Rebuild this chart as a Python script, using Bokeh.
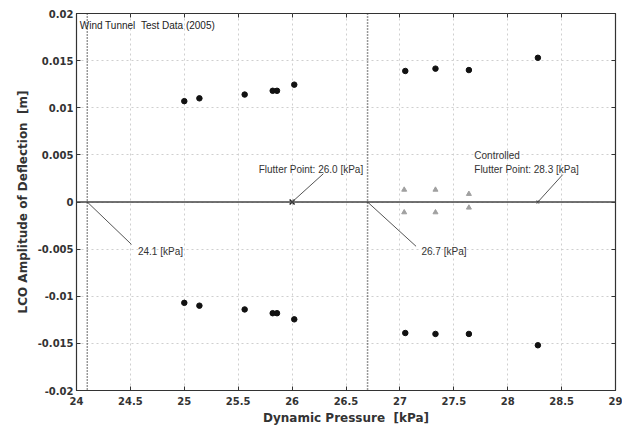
from bokeh.plotting import figure
from bokeh.models import FixedTicker, LinearAxis, Range1d, Span
from bokeh.core.properties import value
from bokeh.embed import file_html
from bokeh.resources import INLINE

# ---- data ----
x_ticks = [24, 24.5, 25, 25.5, 26, 26.5, 27, 27.5, 28, 28.5, 29]
x_tick_labels = ["24", "24.5", "25", "25.5", "26", "26.5", "27", "27.5", "28", "28.5", "29"]
y_ticks = [-0.02, -0.015, -0.01, -0.005, 0, 0.005, 0.01, 0.015, 0.02]
y_tick_labels = ["-0.02", "-0.015", "-0.01", "-0.005", "0", "0.005", "0.01", "0.015", "0.02"]

# uncontrolled LCO amplitude (wind tunnel)
unc_q = [25.0, 25.14, 25.56, 25.82, 25.86, 26.02, 27.05, 27.33, 27.64, 28.28]
unc_upper = [0.0107, 0.0110, 0.0114, 0.0118, 0.0118, 0.01245, 0.0139, 0.01415, 0.0140, 0.0153]
unc_lower = [-0.0107, -0.0110, -0.0114, -0.0118, -0.0118, -0.01245, -0.0139, -0.0140, -0.0140, -0.0152]

# controlled LCO amplitude
ctl_q = [27.04, 27.33, 27.64]
ctl_upper = [0.0013, 0.0013, 0.00085]
ctl_lower = [-0.0011, -0.0011, -0.0006]

# flutter points
flutter_q = [26.0]
ctl_flutter_q = [28.28]
onset_lines = [24.1, 26.7]

# annotations: anchor point, leader end, text position, label
ann_px = [24.1, 26.7, 26.0, 28.28]
ann_py = [0.0, 0.0, 0.0, 0.0]
ann_lx = [24.51, 27.15, 26.29, 28.51]
ann_ly = [-0.0045, -0.0047, 0.003, 0.0029]
ann_tx = [24.57, 27.2, 25.69, 27.69]
ann_ty = [-0.0052, -0.0052, 0.0035, 0.0035]
ann_text = ["24.1 [kPa]", "26.7 [kPa]", "Flutter Point: 26.0 [kPa]", "Flutter Point: 28.3 [kPa]"]
ann2_text = ["Controlled"]
ann2_x = [27.69]
ann2_y = [0.0049]

p = figure(width=622, height=427, output_backend="svg", toolbar_location=None,
           x_range=Range1d(24, 29), y_range=Range1d(-0.02, 0.02),
           min_border_left=76, min_border_right=7, min_border_top=13, min_border_bottom=37)
p.background_fill_color = "white"
p.border_fill_color = "white"
p.outline_line_color = "#333333"
p.outline_line_width = 1.2

p.xaxis.ticker = FixedTicker(ticks=x_ticks)
p.yaxis.ticker = FixedTicker(ticks=y_ticks)
p.xaxis.major_label_overrides = {t: l for t, l in zip(x_ticks, x_tick_labels)}
p.yaxis.major_label_overrides = {t: l for t, l in zip(y_ticks, y_tick_labels)}
for ax in (p.xaxis[0], p.yaxis[0]):
    ax.minor_tick_line_color = None
    ax.major_tick_in = 4
    ax.major_tick_out = 0
    ax.major_tick_line_color = "#333333"
    ax.axis_line_color = "#333333"
    ax.major_label_text_font = "DejaVu Sans"
    ax.major_label_text_font_style = "bold"
    ax.major_label_text_font_size = "10px"
    ax.major_label_text_color = "#333333"
    ax.axis_label_text_font = "DejaVu Sans"
    ax.axis_label_text_font_style = "bold"
    ax.axis_label_text_font_size = "12px"
    ax.axis_label_text_color = "#333333"
p.xaxis.axis_label = "Dynamic Pressure \u00a0[kPa]"
p.yaxis.axis_label = "LCO Amplitude of Deflection \u00a0[m]"
p.xaxis.major_label_standoff = 6
p.yaxis.major_label_standoff = 3
p.xaxis.axis_label_standoff = 3
p.yaxis.axis_label_standoff = 5

for loc, tk in (("right", y_ticks), ("above", x_ticks)):
    ax = LinearAxis(ticker=FixedTicker(ticks=tk), major_tick_in=4, major_tick_out=0,
                    minor_tick_line_color=None,
                    major_label_overrides={t: "" for t in tk},
                    major_label_standoff=0,
                    axis_line_color=None, major_tick_line_color="#333333")
    p.add_layout(ax, loc)

p.xgrid.ticker = FixedTicker(ticks=x_ticks)
p.ygrid.ticker = FixedTicker(ticks=y_ticks)
p.grid.grid_line_color = "#cfcfcf"
p.grid.grid_line_dash = "2 3"
p.grid.grid_line_width = 1

# zero line and onset lines
p.add_layout(Span(location=0, dimension="width", line_color="#444444", line_width=1.6))
for q in onset_lines:
    p.add_layout(Span(location=q, dimension="height", line_color="#333333",
                      line_width=1.5, line_dash="1 2"))

# data
p.scatter(unc_q, unc_upper, marker="circle", size=5.5, color="#111111")
p.scatter(unc_q, unc_lower, marker="circle", size=5.5, color="#111111")
p.scatter(ctl_q, ctl_upper, marker="triangle", size=5, color="#a0a0a0")
p.scatter(ctl_q, ctl_lower, marker="triangle", size=5, color="#a0a0a0")
p.scatter(flutter_q, [0], marker="x", size=7, line_color="#222222", line_width=1.5)
p.scatter(ctl_flutter_q, [0], marker="x", size=4, line_color="#444444", line_width=1.2)

# annotations
p.segment(x0=ann_px, y0=ann_py, x1=ann_lx, y1=ann_ly, line_color="#555555", line_width=1)
p.text(x=ann_tx, y=ann_ty, text=ann_text, text_font=value("Liberation Sans"),
       text_font_size="10px", text_baseline="middle", text_color="#333333")
p.text(x=ann2_x, y=ann2_y, text=ann2_text, text_font=value("Liberation Sans"),
       text_font_size="10px", text_baseline="middle", text_color="#333333")
p.text(x=[24.03], y=[0.0187], text=["Wind Tunnel \u00a0Test Data (2005)"],
       text_font=value("Liberation Sans"), text_font_size="10px",
       text_baseline="middle", text_color="#222222")

open("out.html", "w").write(file_html(p, INLINE))
